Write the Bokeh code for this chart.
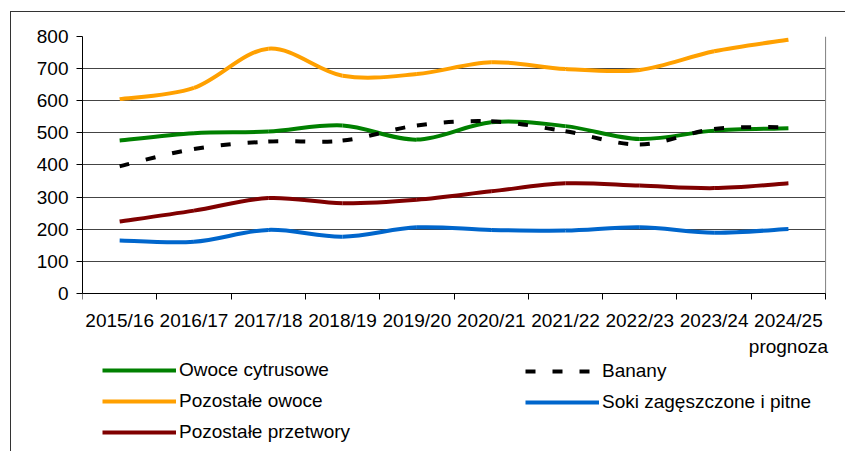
from bokeh.plotting import figure
from bokeh.models import Range1d, FixedTicker, Legend, LegendItem
from bokeh.embed import file_html
from bokeh.resources import INLINE

# ---- data ----
categories = ["2015/16", "2016/17", "2017/18", "2018/19", "2019/20",
              "2020/21", "2021/22", "2022/23", "2023/24", "2024/25"]
last_label_extra = "prognoza"
owoce_cytrusowe = [476, 499, 504, 523, 479, 533, 521, 481, 507, 514]
banany = [396, 450, 473, 476, 523, 536, 505, 464, 512, 518]
pozostale_owoce = [605, 640, 762, 678, 683, 720, 699, 696, 754, 790]
soki = [165, 161, 198, 177, 206, 198, 196, 206, 189, 201]
pozostale_przetwory = [224, 258, 297, 281, 292, 318, 343, 336, 328, 343]
y_ticks = [0, 100, 200, 300, 400, 500, 600, 700, 800]

FONT = "Liberation Sans"
N = len(categories)

# frame extends below the value axis to hold the category labels and the legend
p = figure(width=835, height=440, output_backend="svg", toolbar_location=None,
           x_range=Range1d(0, N + 0.12), y_range=Range1d(-495, 800),
           min_border_left=71, min_border_top=24, min_border_right=12,
           min_border_bottom=0)
p.styles = {"border-left": "1px solid #333333", "border-top": "1px solid #333333",
            "margin-left": "10px", "margin-top": "11px"}
p.outline_line_color = None
p.background_fill_color = "white"
p.border_fill_color = "white"

# category axis fixed at value 0
centers = [i + 0.5 for i in range(N)]
p.xaxis.fixed_location = 0
p.xaxis.bounds = (0, N)
p.xaxis.ticker = FixedTicker(ticks=centers, minor_ticks=list(range(N + 1)))
overrides = {c: lab for c, lab in zip(centers, categories)}
overrides[centers[-1]] = categories[-1] + "\n" + last_label_extra
p.xaxis.major_label_overrides = overrides
p.xaxis.major_tick_out = 0
p.xaxis.major_tick_in = 0
p.xaxis.minor_tick_out = 6
p.xaxis.minor_tick_in = 0
p.xaxis.minor_tick_line_color = "black"
p.xaxis.axis_line_color = "black"
p.xaxis.major_label_standoff = 11
p.xaxis.major_label_text_font = FONT
p.xaxis.major_label_text_font_size = "19px"
p.xaxis.major_label_text_color = "black"

p.yaxis.ticker = FixedTicker(ticks=y_ticks)
p.yaxis.bounds = (y_ticks[0], y_ticks[-1])
p.yaxis.major_tick_out = 6
p.yaxis.major_tick_in = 0
p.yaxis.minor_tick_out = 0
p.yaxis.minor_tick_in = 0
p.yaxis.major_tick_line_color = "black"
p.yaxis.axis_line_color = "black"
p.yaxis.major_label_standoff = 8
p.yaxis.major_label_text_font = FONT
p.yaxis.major_label_text_font_size = "19px"
p.yaxis.major_label_text_color = "black"

p.xgrid.grid_line_color = None
grid = p.ygrid[0]
if hasattr(grid, "cross_bounds"):
    grid.ticker = FixedTicker(ticks=y_ticks)
    grid.cross_bounds = (0, N)
    grid.grid_line_color = "#444444"
    grid.grid_line_width = 1
else:
    grid.grid_line_color = None
    p.segment(x0=[0] * len(y_ticks), x1=[N] * len(y_ticks), y0=y_ticks, y1=y_ticks,
              line_color="#444444", line_width=1)

# right edge line of the plot area
p.segment(x0=[N], x1=[N], y0=[y_ticks[0]], y1=[y_ticks[-1]],
          line_color="#808080", line_width=1)


def smooth(vals):
    """Bezier segments through the data points (Excel-like smoothing)."""
    n = len(vals)
    xs = centers
    d = dict(x0=[], y0=[], x1=[], y1=[], cx0=[], cy0=[], cx1=[], cy1=[])
    for i in range(n - 1):
        a = i - 1 if i > 0 else i
        b = i + 2 if i + 2 < n else i + 1
        d["x0"].append(xs[i]); d["y0"].append(vals[i])
        d["x1"].append(xs[i + 1]); d["y1"].append(vals[i + 1])
        d["cx0"].append(xs[i] + (xs[i + 1] - xs[a]) / 6)
        d["cy0"].append(vals[i] + (vals[i + 1] - vals[a]) / 6)
        d["cx1"].append(xs[i + 1] - (xs[b] - xs[i]) / 6)
        d["cy1"].append(vals[i + 1] - (vals[b] - vals[i]) / 6)
    return d


series = [
    ("Owoce cytrusowe", owoce_cytrusowe, "#008000", "solid"),
    ("Banany", banany, "black", "10 17"),
    ("Pozostałe owoce", pozostale_owoce, "#FFA000", "solid"),
    ("Soki zagęszczone i pitne", soki, "#0066CC", "solid"),
    ("Pozostałe przetwory", pozostale_przetwory, "#800000", "solid"),
]
renderers = {}
for name, vals, color, dash in series:
    r = p.bezier(source=smooth(vals), x0="x0", y0="y0", x1="x1", y1="y1",
                 cx0="cx0", cy0="cy0", cx1="cx1", cy1="cy1",
                 line_color=color, line_width=4, line_dash=dash, line_cap="butt")
    renderers[name] = r


def make_legend(names, loc):
    lg = Legend(items=[LegendItem(label=n, renderers=[renderers[n]]) for n in names],
                location=loc, orientation="vertical")
    lg.border_line_color = None
    lg.background_fill_alpha = 0
    lg.padding = 0
    lg.margin = 0
    lg.label_standoff = 3
    lg.glyph_width = 74
    lg.glyph_height = 20
    lg.label_height = 20
    lg.spacing = 9
    lg.label_text_font = FONT
    lg.label_text_font_size = "19px"
    lg.label_text_color = "black"
    return lg


p.add_layout(make_legend(["Owoce cytrusowe", "Pozostałe owoce", "Pozostałe przetwory"], (20, 9)))
p.add_layout(make_legend(["Banany", "Soki zagęszczone i pitne"], (443, 39)))

open("out.html", "w").write(file_html(p, INLINE))
